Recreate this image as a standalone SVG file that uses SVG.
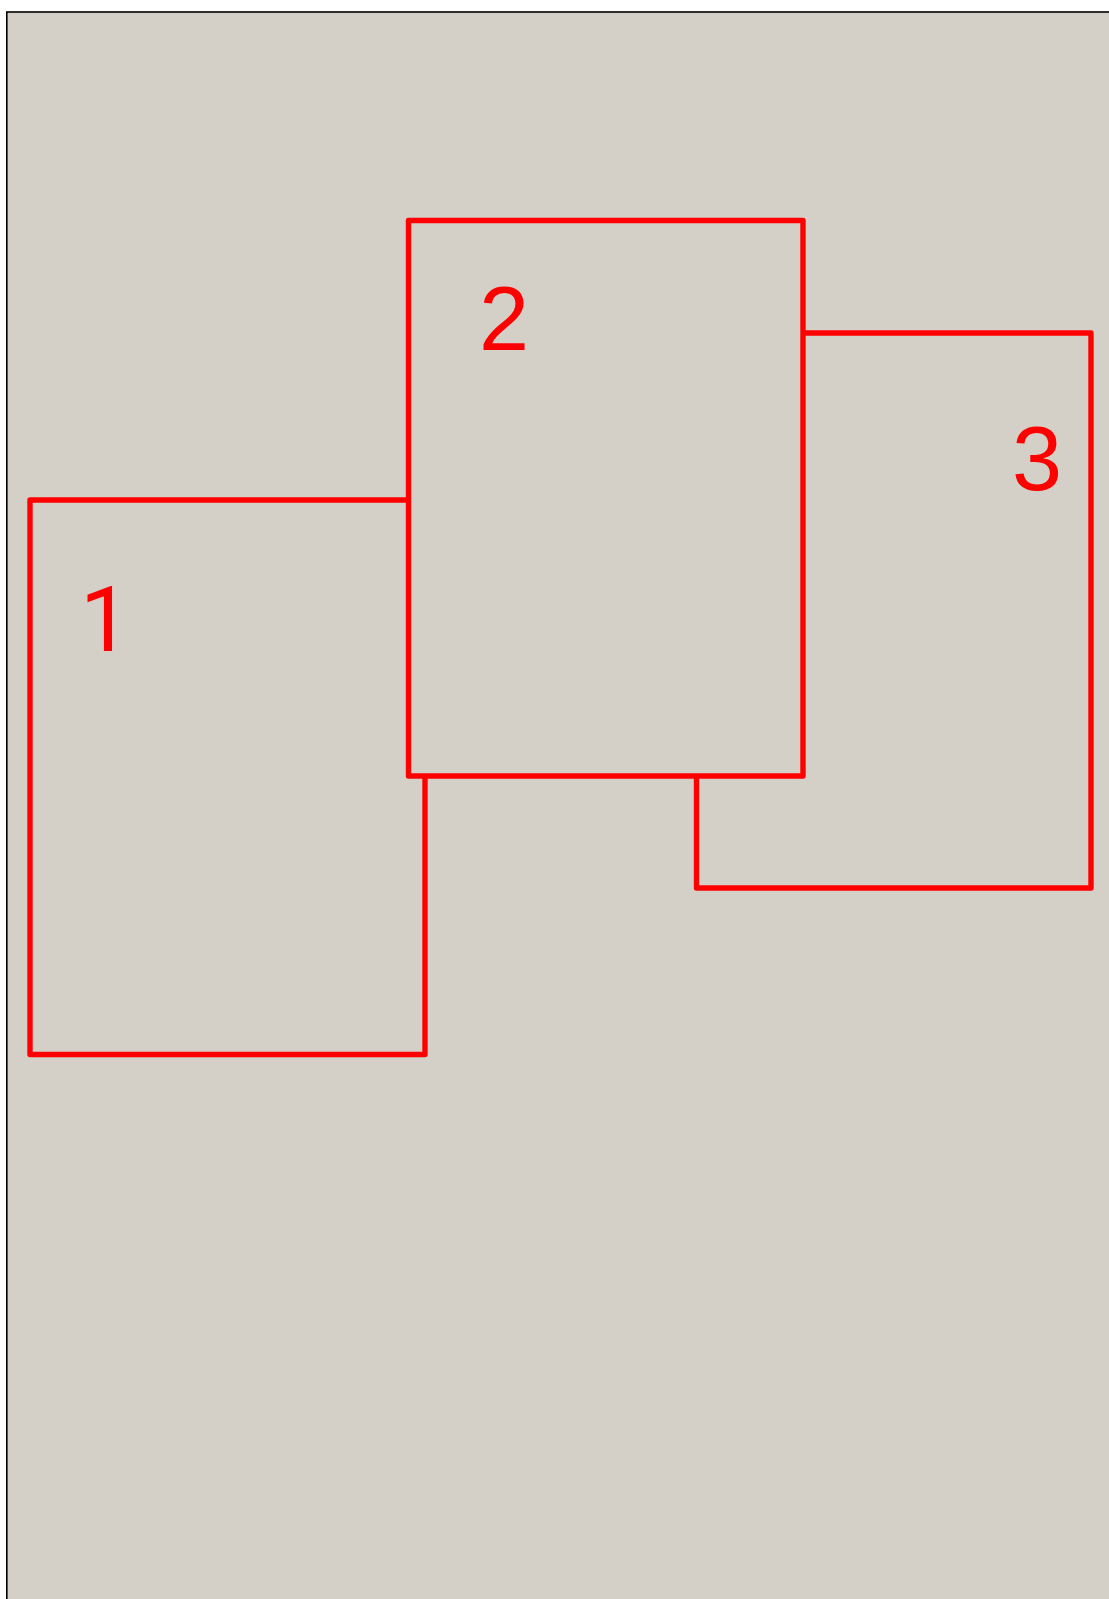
<svg xmlns="http://www.w3.org/2000/svg" width="1109" height="1599" viewBox="0 0 1109 1599">
<style>
.frame{fill:#d4d0c8;stroke:#000;stroke-width:1.6}
.box{fill:#d4d0c8;stroke:#ff0000;stroke-width:5.4;stroke-linejoin:round;stroke-linecap:butt}
.lbl{font-family:"Liberation Sans",Arial,sans-serif;font-size:90px;fill:#ff0000}
.one{font-family:Roboto,"Liberation Sans",Arial,sans-serif}
</style>
<rect class="frame" x="6.8" y="12" width="1120" height="1620"/>
<g id="node3">
<path class="box" d="M696.5,888 L696.5,333 L1091,333 L1091,888 Z"/>
<text class="lbl" x="1012" y="490">3</text>
</g>
<g id="node1">
<path class="box" d="M30,1054.5 L30,500 L425,500 L425,1054.5 Z"/>
<text class="lbl one" x="80" y="651">1</text>
</g>
<g id="node2">
<path class="box" d="M408.5,776 L408.5,220.5 L803,220.5 L803,776 Z"/>
<text class="lbl" x="479" y="350">2</text>
</g>
<g id="connectors"/>
</svg>
